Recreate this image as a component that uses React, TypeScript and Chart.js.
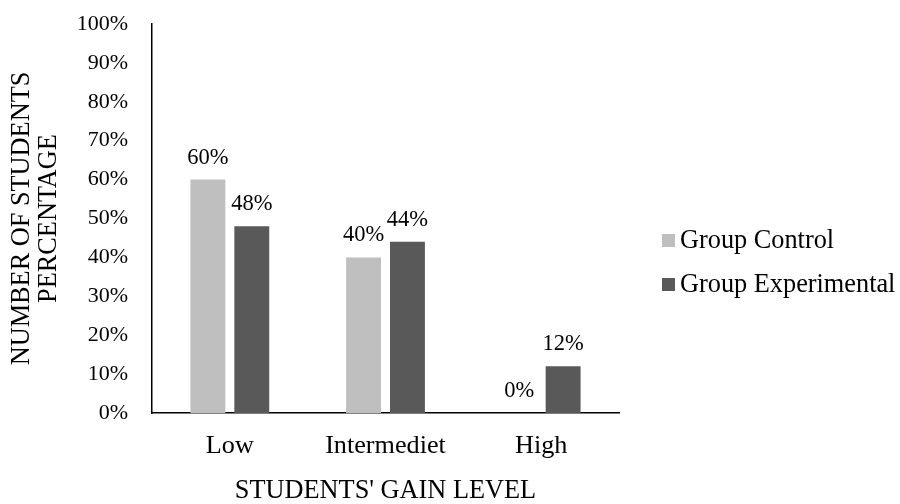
import React, { useEffect, useRef } from "react";
import { Chart, registerables } from "chart.js";

Chart.register(...registerables);

const categories = ["Low", "Intermediet", "High"];
const controlValues = [60, 40, 0];
const experimentalValues = [48, 44, 12];
const seriesNames = ["Group Control", "Group Experimental"];
const seriesColors = ["#BFBFBF", "#595959"];
const yTicks = [0, 10, 20, 30, 40, 50, 60, 70, 80, 90, 100];

const FONT = "'Liberation Serif', 'Times New Roman', serif";

const labelPlugin = {
  id: "barLabels",
  afterDatasetsDraw(chart: any) {
    const ctx = chart.ctx;
    ctx.save();
    ctx.font = `22.5px ${FONT}`;
    ctx.fillStyle = "#000";
    ctx.textAlign = "center";
    ctx.textBaseline = "alphabetic";
    chart.data.datasets.forEach((ds: any, di: number) => {
      const meta = chart.getDatasetMeta(di);
      meta.data.forEach((bar: any, i: number) => {
        ctx.fillText(`${ds.data[i]}%`, bar.x, bar.y - 16);
      });
    });
    ctx.restore();
  },
};

const legendPlugin = {
  id: "sideLegend",
  afterDraw(chart: any) {
    const ctx = chart.ctx;
    ctx.save();
    ctx.font = `26.3px ${FONT}`;
    ctx.textAlign = "left";
    ctx.textBaseline = "middle";
    const x0 = chart.chartArea.right + 43;
    const yc = (chart.chartArea.top + chart.chartArea.bottom) / 2 + 44;
    const n = chart.data.datasets.length;
    chart.data.datasets.forEach((ds: any, i: number) => {
      const y = yc + (i - (n - 1) / 2) * 44;
      ctx.fillStyle = ds.backgroundColor;
      ctx.fillRect(x0, y - 6.5, 13, 13);
      ctx.fillStyle = "#000";
      ctx.fillText(ds.label, x0 + 18, y + 1);
    });
    ctx.restore();
  },
};

export default function App() {
  const ref = useRef<HTMLCanvasElement>(null);
  useEffect(() => {
    if (!ref.current) return;
    const chart = new Chart(ref.current, {
      type: "bar",
      data: {
        labels: categories,
        datasets: [
          { label: seriesNames[0], data: controlValues, backgroundColor: seriesColors[0] },
          { label: seriesNames[1], data: experimentalValues, backgroundColor: seriesColors[1] },
        ],
      },
      plugins: [labelPlugin, legendPlugin],
      options: {
        animation: false,
        responsive: false,
        maintainAspectRatio: false,
        layout: { padding: { top: 24, right: 281, bottom: 0, left: 0 } },
        datasets: { bar: { categoryPercentage: 0.564, barPercentage: 0.795 } },
        plugins: { legend: { display: false }, tooltip: { enabled: false } },
        scales: {
          x: {
            grid: { display: false, drawTicks: false, tickLength: 0 },
            border: { display: true, color: "#000", width: 1.5 },
            ticks: { color: "#000", font: { family: FONT, size: 26.2 }, padding: 17 },
            title: {
              display: true,
              text: "STUDENTS' GAIN LEVEL",
              color: "#000",
              font: { family: FONT, size: 26.3, lineHeight: 1.0 },
              padding: { top: 0, bottom: 0 },
            },
            afterFit: (s: any) => { s.height = 91; },
          },
          y: {
            min: 0,
            max: 100,
            grid: { display: false, drawTicks: false, tickLength: 0 },
            border: { display: true, color: "#000", width: 1.5 },
            afterBuildTicks: (s: any) => { s.ticks = yTicks.map((v) => ({ value: v })); },
            ticks: {
              color: "#000",
              font: { family: FONT, size: 22 },
              padding: 24,
              callback: (v: any) => `${v}%`,
            },
            title: {
              display: true,
              text: ["NUMBER OF STUDENTS", "PERCENTAGE"],
              color: "#000",
              font: { family: FONT, size: 26.3, lineHeight: 1.027 },
              padding: { top: 8.5, bottom: 0 },
            },
            afterFit: (s: any) => {
              s.width = 152;
              s.paddingTop = 0;
              s.paddingBottom = 0;
            },
          },
        },
      },
    });
    return () => chart.destroy();
  }, []);
  return (
    <div style={{ position: "fixed", left: 0, top: 0, width: 900, height: 504, background: "#fff" }}>
      <canvas ref={ref} width={900} height={504} style={{ width: 900, height: 504 }} />
    </div>
  );
}
